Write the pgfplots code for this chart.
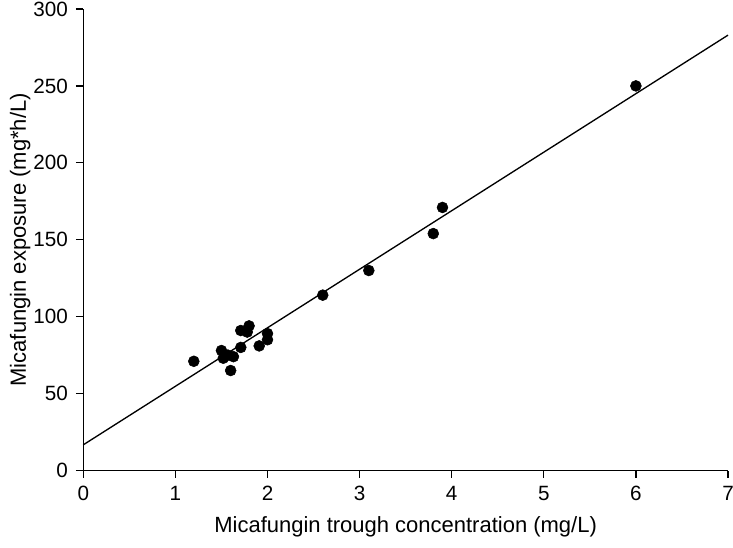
\documentclass[border=0pt]{standalone}
\usepackage{pgfplots}
\pgfplotsset{compat=1.18}
\usepackage{fontspec}
\setmainfont{Liberation Sans}
\begin{document}
\begin{tikzpicture}
\begin{axis}[
  scale only axis,
  width=483.75pt, height=346.3pt,
  xmin=0, xmax=7, ymin=0, ymax=300,
  axis x line*=bottom, axis y line*=left,
  axis line style={line width=1pt, black},
  tick align=outside,
  major tick length=5.5pt,
  tick style={line width=1pt, black},
  xtick={0,1,2,3,4,5,6,7},
  ytick={0,50,100,150,200,250,300},
  /pgf/number format/assume math mode=true,
  ticklabel style={font=\fontsize{15.5}{18}\selectfont},
  xticklabel style={yshift=-2.5pt},
  yticklabel style={xshift=-2.5pt},
  xlabel={Micafungin trough concentration (mg/L)},
  ylabel={Micafungin exposure (mg*h/L)},
  label style={font=\fontsize{16.5}{20}\selectfont},
  xlabel style={at={(axis description cs:0.5,0)}, anchor=base, yshift=-46.7pt},
  ylabel style={at={(axis description cs:0,0.5)}, anchor=base, yshift=43pt},
  clip=false,
]
\addplot[black, line width=1pt] coordinates {(0,16.7) (7,283)};
\addplot[only marks, mark=*, mark size=4.1pt, black] coordinates {
(1.2,71) (1.5,78) (1.52,73) (1.57,75) (1.6,65) (1.63,74) (1.71,80)
(1.71,91) (1.8,94) (1.78,90) (1.91,81) (2.0,89) (2.0,85)
(2.6,114) (3.1,130) (3.8,154) (3.9,171) (6.0,250)
};
\end{axis}
\pgfresetboundingbox
\path[use as bounding box] (-62.5pt,-58pt) rectangle (487.5pt,353.05pt);
\end{tikzpicture}
\end{document}
